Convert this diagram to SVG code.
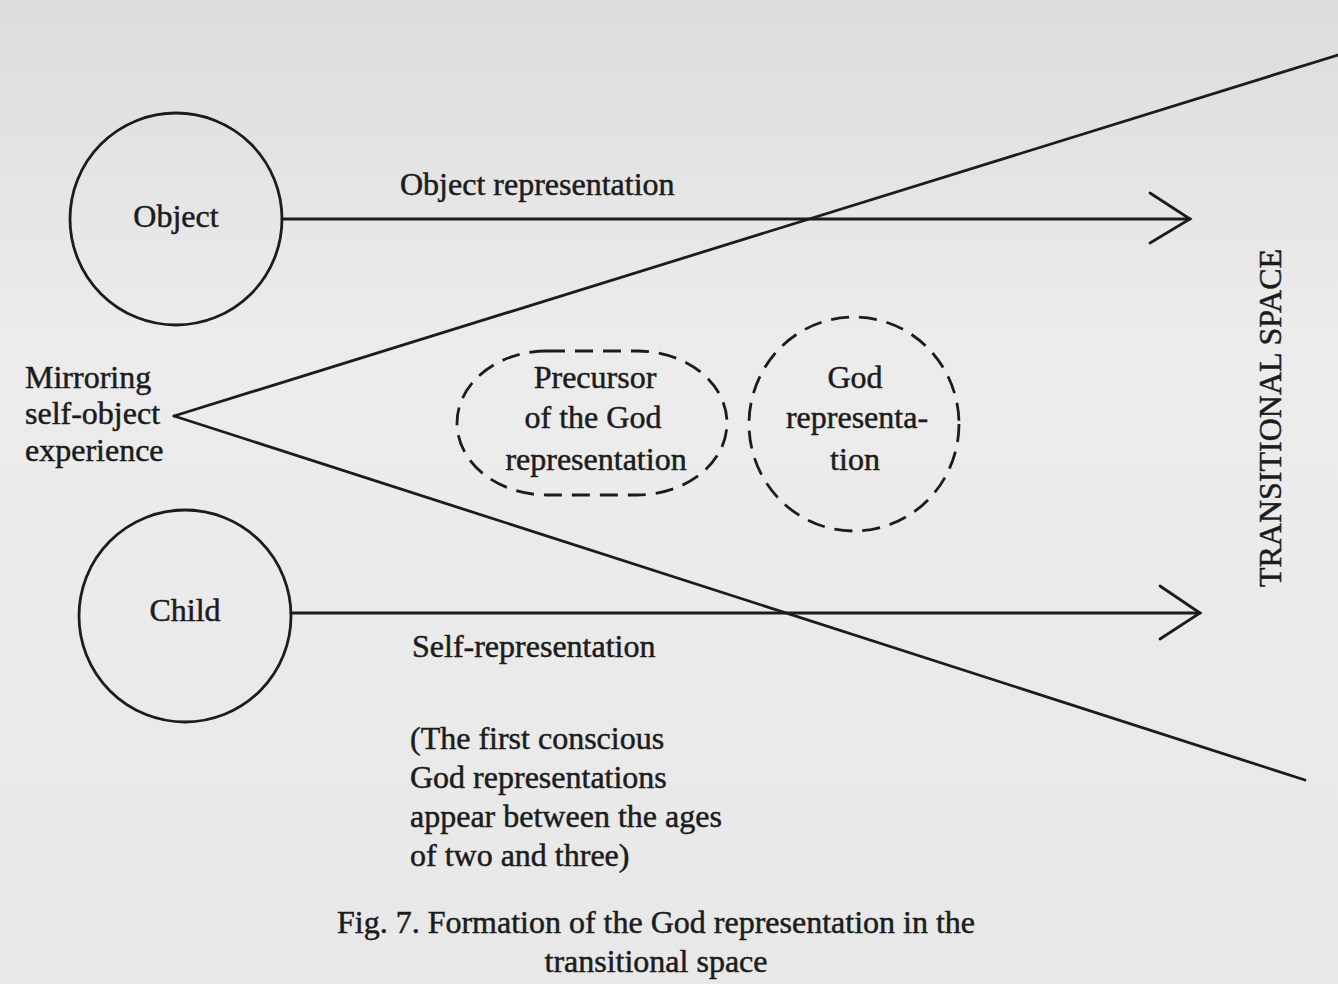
<svg xmlns="http://www.w3.org/2000/svg" width="1338" height="984" viewBox="0 0 1338 984">
<style>
text{font-family:"Liberation Serif","Times New Roman",serif;fill:#1c1c1c;stroke:#1c1c1c;stroke-width:0.5;font-size:32px}
.m{text-anchor:middle}
.ln{stroke:#1c1c1c;stroke-width:2.8;fill:none;stroke-linecap:round}
.node{stroke:#1c1c1c;stroke-width:2.8;fill:none}
.dash{stroke:#1c1c1c;stroke-width:2.8;fill:none;stroke-dasharray:18 10}
</style>
<defs>
<linearGradient id="bg" x1="0" y1="0" x2="0" y2="1">
<stop offset="0" stop-color="#dcdcdc"/>
<stop offset="0.35" stop-color="#ececec"/>
<stop offset="1" stop-color="#e8e8e8"/>
</linearGradient>
</defs>
<rect width="1338" height="984" fill="url(#bg)"/>
<g id="connectors">
<line class="ln" x1="282" y1="219" x2="1190" y2="219"/>
<polyline class="ln" points="1150,193 1190,219 1150,243"/>
<line class="ln" x1="291" y1="613" x2="1200" y2="613"/>
<polyline class="ln" points="1160,586 1200,613 1160,639"/>
<line class="ln" x1="174" y1="416" x2="1338" y2="55"/>
<line class="ln" x1="174" y1="416" x2="1305" y2="780"/>
</g>
<g id="object">
<circle class="node" cx="176" cy="219" r="106"/>
<text class="m" x="176" y="227">Object</text>
</g>
<g id="object-rep-label"><text x="400" y="195">Object representation</text></g>
<g id="mirroring">
<text x="25" y="388">Mirroring</text>
<text x="25" y="424">self-object</text>
<text x="25" y="461">experience</text>
</g>
<g id="precursor">
<rect class="dash" x="457" y="351" width="270" height="144" rx="90" ry="72"/>
<text class="m" x="595" y="388">Precursor</text>
<text class="m" x="593" y="428">of the God</text>
<text class="m" x="596" y="470">representation</text>
</g>
<g id="god">
<ellipse class="dash" cx="854" cy="424" rx="105" ry="107" stroke-dasharray="22 12"/>
<text class="m" x="855" y="388">God</text>
<text class="m" x="857" y="428">representa-</text>
<text class="m" x="855" y="470">tion</text>
</g>
<g id="child">
<circle class="node" cx="185" cy="616" r="106"/>
<text class="m" x="185" y="621">Child</text>
</g>
<g id="self-rep-label"><text x="412" y="657">Self-representation</text></g>
<g id="note">
<text x="410" y="749">(The first conscious</text>
<text x="410" y="788">God representations</text>
<text x="410" y="827">appear between the ages</text>
<text x="410" y="866">of two and three)</text>
</g>
<g id="transitional">
<text class="m" transform="translate(1281,418) rotate(-90)" font-size="29">TRANSITIONAL SPACE</text>
</g>
<g id="caption">
<text class="m" x="656" y="933">Fig. 7. Formation of the God representation in the</text>
<text class="m" x="656" y="972">transitional space</text>
</g>
</svg>
